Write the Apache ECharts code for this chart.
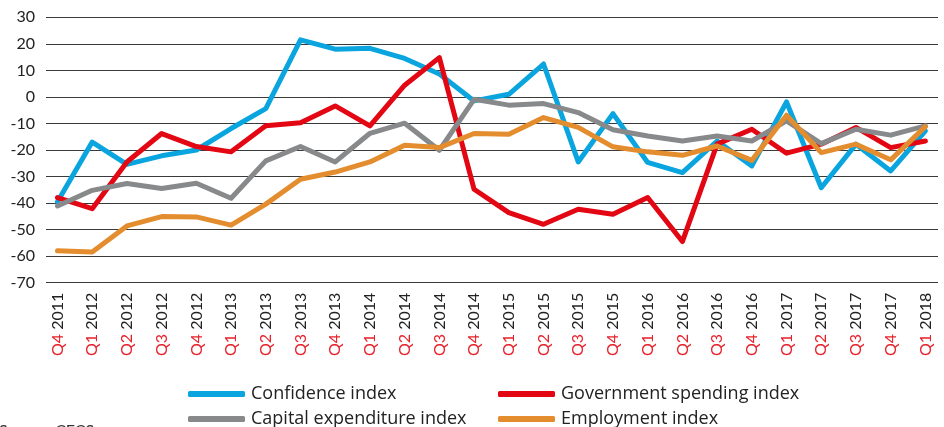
<!DOCTYPE html>
<html>
<head>
<meta charset="utf-8">
<script src="https://cdn.jsdelivr.net/npm/echarts@6/dist/echarts.min.js"></script>
<style>
  html, body { margin: 0; padding: 0; background: #fff; }
  #chart { width: 944px; height: 427px; }
</style>
</head>
<body>
<div id="chart"></div>
<script>
// Quarters (Q part drawn red, year drawn black)
const quarters = ['Q4','Q1','Q2','Q3','Q4','Q1','Q2','Q3','Q4','Q1','Q2','Q3','Q4',
  'Q1','Q2','Q3','Q4','Q1','Q2','Q3','Q4','Q1','Q2','Q3','Q4','Q1']
const years = ['2011','2012','2012','2012','2012','2013','2013','2013','2013','2014','2014','2014','2014',
  '2015','2015','2015','2015','2016','2016','2016','2016','2017','2017','2017','2017','2018']

// Index values
const confidence = [-39.5, -17.0, -25.4, -22.2, -20.0, -11.9, -4.4, 21.5, 18.0, 18.3, 14.5, 8.6, -1.5,
  1.0, 12.4, -24.5, -6.3, -24.7, -28.5, -16.6, -26.0, -1.9, -34.2, -17.8, -27.9, -12.8]
const government = [-37.9, -42.1, -24.5, -13.8, -18.7, -20.7, -10.9, -9.7, -3.4, -10.9, 4.4, 14.8, -34.8,
  -43.6, -48.0, -42.3, -44.2, -37.9, -54.5, -17.8, -12.2, -21.2, -17.8, -11.5, -19.1, -16.6]
const capex = [-41.1, -35.2, -32.6, -34.5, -32.5, -38.2, -24.1, -18.7, -24.5, -13.7, -9.9, -20.1, -0.9,
  -3.1, -2.5, -5.9, -12.4, -14.7, -16.6, -14.7, -16.6, -9.0, -17.6, -12.2, -14.4, -10.9]
const employment = [-58.0, -58.4, -48.6, -45.1, -45.2, -48.3, -40.4, -31.0, -28.3, -24.5, -18.2, -19.1, -13.8,
  -14.1, -7.8, -11.5, -18.8, -20.7, -22.0, -18.5, -23.9, -6.9, -21.0, -17.8, -23.7, -11.2]

const FONT = 'Lato'
const LEGEND_FONT = 'Open Sans'
const chart = echarts.init(document.getElementById('chart'), null, { renderer: 'canvas' })

const toPairs = arr => arr.map((v, i) => [i, v])

const lineSeries = (name, data, color) => ({
  name,
  type: 'line',
  data: toPairs(data),
  showSymbol: false,
  symbol: 'none',
  lineStyle: { color, width: 5, cap: 'round', join: 'round' },
  itemStyle: { color },
  animation: false
})

// one legend per entry so they sit in a 2x2 block like the original
const legendItem = (name, left, top) => ({
  left,
  top,
  itemWidth: 57,
  itemHeight: 6,
  icon: 'roundRect',
  data: [name],
  textStyle: { fontSize: 18, lineHeight: 20, color: '#222', fontFamily: LEGEND_FONT, padding: [0, 0, 0, 1] }
})

chart.setOption({
  animation: false,
  textStyle: { fontFamily: FONT },
  grid: { left: 46, right: 6, top: 17.3, bottom: 144.3 },
  xAxis: {
    type: 'value',
    min: -0.331,
    max: 25.363,
    axisLine: { show: false },
    axisTick: { show: false },
    splitLine: { show: false },
    axisLabel: {
      customValues: quarters.map((q, i) => i),
      rotate: 90,
      margin: 10,
      fontSize: 16,
      fontFamily: FONT,
      formatter: v => `{q|${quarters[v]}} {y|${years[v]}}`,
      rich: {
        q: { color: '#e8202a', fontSize: 16, fontFamily: FONT },
        y: { color: '#222', fontSize: 16, fontFamily: FONT }
      }
    }
  },
  yAxis: {
    type: 'value',
    min: -70,
    max: 30,
    interval: 10,
    axisLine: { show: false },
    axisTick: { show: false },
    axisLabel: { color: '#222', fontSize: 16, fontFamily: FONT, margin: 11 },
    splitLine: { lineStyle: { color: '#3a3a3a', width: 1 } }
  },
  legend: [
    legendItem('Confidence index', 183, 379),
    legendItem('Capital expenditure index', 183, 404),
    legendItem('Government spending index', 493, 379),
    legendItem('Employment index', 493, 404)
  ],
  graphic: [
    {
      type: 'text',
      left: -1,
      top: 423,
      style: { text: 'Source: CECS', fontSize: 16, fontFamily: FONT, fill: '#333' }
    }
  ],
  series: [
    lineSeries('Confidence index', confidence, '#0aa5df'),
    lineSeries('Government spending index', government, '#e30613'),
    lineSeries('Capital expenditure index', capex, '#87898b'),
    lineSeries('Employment index', employment, '#e38d2f')
  ]
})
</script>
</body>
</html>
